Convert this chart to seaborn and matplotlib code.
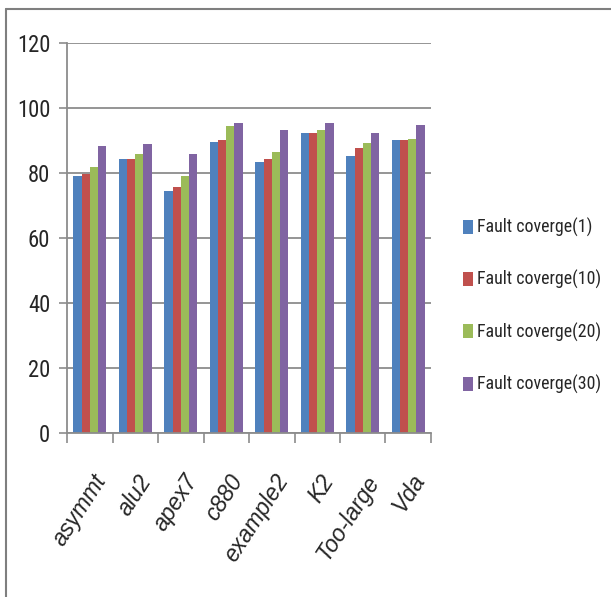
import matplotlib
matplotlib.use("Agg")
import matplotlib.pyplot as plt
from matplotlib import font_manager
from matplotlib.lines import Line2D
from matplotlib.ticker import MultipleLocator, FixedLocator
from matplotlib.transforms import ScaledTranslation
import seaborn as sns
import pandas as pd

circuits = ["asymmt", "alu2", "apex7", "c880", "example2", "K2", "Too-large", "Vda"]
series_names = ["Fault coverge(1)", "Fault coverge(10)", "Fault coverge(20)", "Fault coverge(30)"]
cov_1 = [79.2, 84.4, 74.5, 89.4, 83.4, 92.3, 85.3, 90.1]
cov_10 = [79.8, 84.4, 75.7, 90.1, 84.4, 92.3, 87.6, 90.1]
cov_20 = [81.8, 85.8, 79.2, 94.5, 86.6, 93.1, 89.3, 90.6]
cov_30 = [88.4, 88.9, 85.8, 95.3, 93.2, 95.3, 92.3, 94.9]
colors = ["#4F81BD", "#C0504D", "#9BBB59", "#8064A2"]

rows = []
for name, vals in zip(series_names, [cov_1, cov_10, cov_20, cov_30]):
    for c, v in zip(circuits, vals):
        rows.append({"circuit": c, "series": name, "value": v})
df = pd.DataFrame(rows)


def narrow_font():
    """Pick the narrowest sans face available, falling back to Liberation Sans."""
    fonts = font_manager.fontManager.ttflist
    names = {f.name for f in fonts}
    for fam in ["Liberation Sans Narrow", "Roboto Condensed", "Open Sans Condensed",
                "DejaVu Sans Condensed"]:
        if fam in names:
            return fam, "normal"
    for f in fonts:
        if f.name == "DejaVu Sans" and str(f.stretch) in ("condensed", "semi-condensed"):
            return "DejaVu Sans", "condensed"
    return "Liberation Sans", "normal"


sns.set_theme(style="white")
plt.rcParams["font.family"] = ["Liberation Sans", "DejaVu Sans"]
nfam, nstretch = narrow_font()

fig = plt.figure(figsize=(6.11, 5.97), dpi=100)
renderer = fig.canvas.get_renderer()


def fit_size(text, target_px):
    t = fig.text(0, 0, text, fontsize=10, family=nfam, stretch=nstretch)
    w = t.get_window_extent(renderer).width
    t.remove()
    return 10 * target_px / w


ytick_fs = min(fit_size("100", 33), 17)
legend_fs = min(fit_size("Fault coverge(30)", 124), 17)

ax = fig.add_axes([67 / 611, 1 - 433 / 597, (431 - 67) / 611, (433 - 43) / 597])

sns.barplot(data=df, x="circuit", y="value", hue="series", order=circuits,
            hue_order=series_names, palette=colors, width=0.72, gap=0,
            saturation=1, linewidth=0, ax=ax, legend=True)

grid_c = "#8c8c8c"
ax.set_ylim(0, 120)
ax.set_xlim(-0.5, len(circuits) - 0.5)
ax.yaxis.set_major_locator(MultipleLocator(20))
ax.set_axisbelow(True)
ax.yaxis.grid(True, color=grid_c, linewidth=1.3)
ax.xaxis.grid(False)
ax.set_xlabel("")
ax.set_ylabel("")

for s in ["top", "right"]:
    ax.spines[s].set_visible(False)
for s in ["left", "bottom"]:
    ax.spines[s].set_color(grid_c)
    ax.spines[s].set_linewidth(1.3)

ax.tick_params(axis="y", which="major", length=6, width=1.2, color=grid_c,
               pad=6, left=True, direction="out")
for lab in ax.get_yticklabels():
    lab.set_fontsize(ytick_fs)
    lab.set_family(nfam)
    lab.set_stretch(nstretch)

ax.xaxis.set_minor_locator(FixedLocator([i - 0.5 for i in range(len(circuits) + 1)]))
ax.tick_params(axis="x", which="minor", length=7, width=1.2, color=grid_c,
               bottom=True, direction="out")
ax.tick_params(axis="x", which="major", length=0, pad=27)
ax.set_xticks(range(len(circuits)))
ax.set_xticklabels(circuits, rotation=57, ha="right", va="top",
                   rotation_mode="anchor", fontstyle="italic", fontsize=16.5)
shift = ScaledTranslation(2 / 100, 0, fig.dpi_scale_trans)
for lab in ax.get_xticklabels():
    lab.set_transform(lab.get_transform() + shift)

fs_px = legend_fs * 100 / 72
handles, labels = ax.get_legend_handles_labels()
ax.legend(handles, labels, loc="center left", bbox_to_anchor=(456 / 611, 1 - 306 / 597),
          bbox_transform=fig.transFigure, frameon=False,
          prop={"family": nfam, "stretch": nstretch, "size": legend_fs},
          handlelength=10 / fs_px, handleheight=15 / fs_px, handletextpad=4 / fs_px,
          labelspacing=max((52 - 1.05 * fs_px) / fs_px, 0.3), borderaxespad=0)

# chart-area border along the top and left
fig.add_artist(Line2D([6 / 611, 1], [1 - 9 / 597, 1 - 9 / 597], color="#7f7f7f",
                      linewidth=1.5, transform=fig.transFigure))
fig.add_artist(Line2D([6 / 611, 6 / 611], [0, 1 - 9 / 597], color="#7f7f7f",
                      linewidth=1.5, transform=fig.transFigure))

fig.savefig("out.png", dpi=100)
